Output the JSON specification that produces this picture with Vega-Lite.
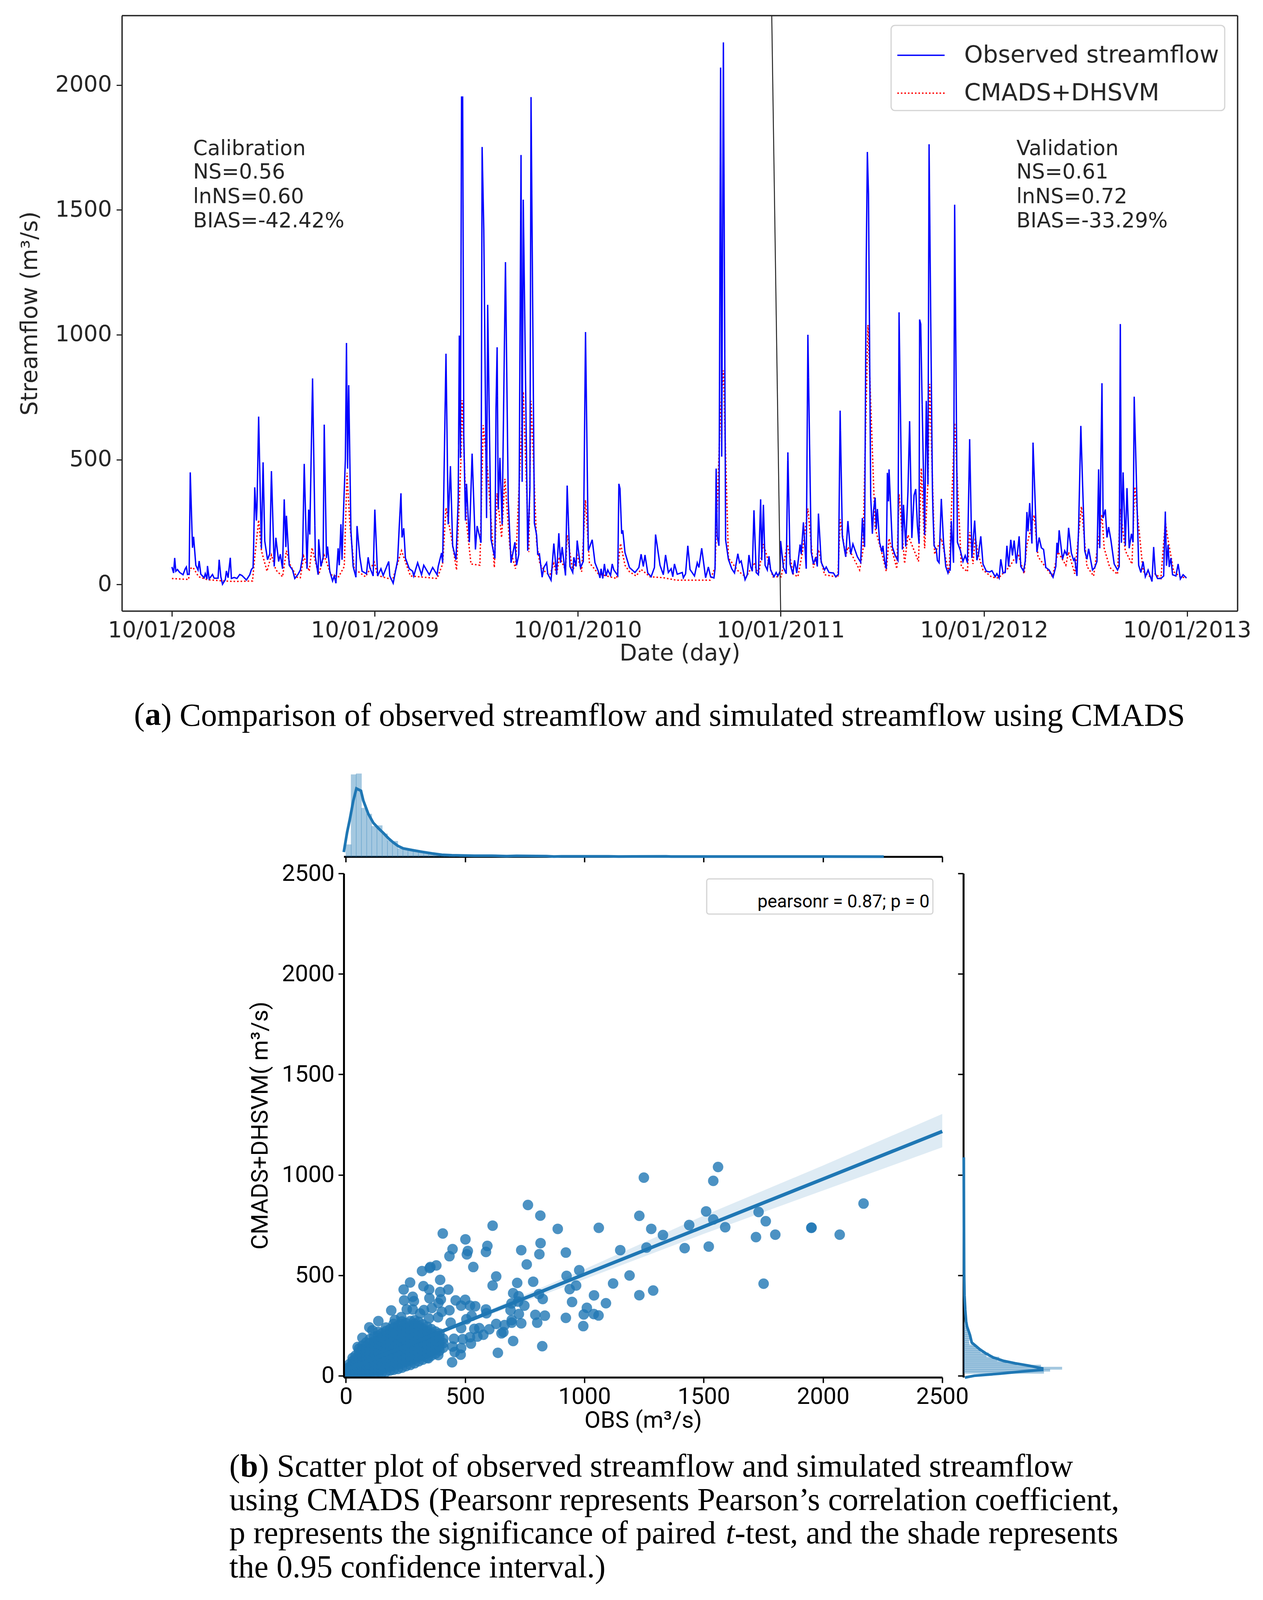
{
"$schema":"https://vega.github.io/schema/vega-lite/v5.json",
"background":"white","padding":0,"spacing":0,"bounds":"flush",
"resolve":{"scale":{"color":"independent","strokeDash":"independent"},"legend":{"color":"independent","strokeDash":"independent"}},
"config":{"view":{"stroke":null},"font":"DejaVu Sans","legend":{"strokeWidth":3},"title":{"font":"Liberation Serif","fontSize":82,"fontWeight":"normal","color":"#000000","anchor":"start","orient":"top","baseline":"alphabetic"}},
"datasets":{
"blank":[{}],
"obs":[{"d":"2008-10-01","v":70},{"d":"2008-10-04","v":46},{"d":"2008-10-06","v":106},{"d":"2008-10-08","v":53},{"d":"2008-10-11","v":60},{"d":"2008-10-15","v":48},{"d":"2008-10-21","v":39},{"d":"2008-10-25","v":63},{"d":"2008-10-27","v":70},{"d":"2008-10-29","v":40},{"d":"2008-11-01","v":41},{"d":"2008-11-03","v":449},{"d":"2008-11-07","v":147},{"d":"2008-11-09","v":191},{"d":"2008-11-13","v":77},{"d":"2008-11-17","v":58},{"d":"2008-11-19","v":94},{"d":"2008-11-22","v":41},{"d":"2008-11-28","v":27},{"d":"2008-11-30","v":43},{"d":"2008-12-03","v":22},{"d":"2008-12-04","v":74},{"d":"2008-12-07","v":22},{"d":"2008-12-13","v":40},{"d":"2008-12-16","v":25},{"d":"2008-12-23","v":25},{"d":"2008-12-25","v":99},{"d":"2008-12-28","v":31},{"d":"2008-12-31","v":1},{"d":"2009-01-05","v":19},{"d":"2009-01-07","v":54},{"d":"2009-01-10","v":27},{"d":"2009-01-14","v":107},{"d":"2009-01-16","v":24},{"d":"2009-01-21","v":28},{"d":"2009-01-26","v":24},{"d":"2009-01-31","v":40},{"d":"2009-02-04","v":36},{"d":"2009-02-12","v":18},{"d":"2009-02-18","v":39},{"d":"2009-02-21","v":60},{"d":"2009-02-24","v":68},{"d":"2009-02-25","v":152},{"d":"2009-02-27","v":389},{"d":"2009-03-02","v":256},{"d":"2009-03-03","v":307},{"d":"2009-03-06","v":672},{"d":"2009-03-11","v":143},{"d":"2009-03-14","v":489},{"d":"2009-03-17","v":174},{"d":"2009-03-22","v":99},{"d":"2009-03-26","v":123},{"d":"2009-03-29","v":454},{"d":"2009-04-03","v":72},{"d":"2009-04-06","v":187},{"d":"2009-04-11","v":92},{"d":"2009-04-14","v":121},{"d":"2009-04-18","v":63},{"d":"2009-04-21","v":341},{"d":"2009-04-24","v":150},{"d":"2009-04-25","v":275},{"d":"2009-04-30","v":77},{"d":"2009-05-06","v":58},{"d":"2009-05-10","v":24},{"d":"2009-05-16","v":41},{"d":"2009-05-20","v":58},{"d":"2009-05-24","v":111},{"d":"2009-05-27","v":483},{"d":"2009-06-01","v":63},{"d":"2009-06-04","v":300},{"d":"2009-06-06","v":200},{"d":"2009-06-11","v":825},{"d":"2009-06-16","v":111},{"d":"2009-06-21","v":39},{"d":"2009-06-22","v":181},{"d":"2009-06-26","v":72},{"d":"2009-06-30","v":109},{"d":"2009-07-02","v":640},{"d":"2009-07-06","v":106},{"d":"2009-07-08","v":152},{"d":"2009-07-12","v":53},{"d":"2009-07-17","v":14},{"d":"2009-07-20","v":34},{"d":"2009-07-23","v":5},{"d":"2009-07-27","v":145},{"d":"2009-07-29","v":77},{"d":"2009-08-01","v":241},{"d":"2009-08-03","v":99},{"d":"2009-08-05","v":254},{"d":"2009-08-09","v":500},{"d":"2009-08-11","v":967},{"d":"2009-08-13","v":464},{"d":"2009-08-15","v":798},{"d":"2009-08-19","v":217},{"d":"2009-08-23","v":72},{"d":"2009-08-28","v":29},{"d":"2009-08-30","v":234},{"d":"2009-09-04","v":111},{"d":"2009-09-08","v":53},{"d":"2009-09-16","v":43},{"d":"2009-09-19","v":109},{"d":"2009-09-22","v":68},{"d":"2009-09-28","v":34},{"d":"2009-10-01","v":300},{"d":"2009-10-06","v":34},{"d":"2009-10-12","v":63},{"d":"2009-10-16","v":36},{"d":"2009-10-26","v":92},{"d":"2009-10-28","v":34},{"d":"2009-11-03","v":5},{"d":"2009-11-11","v":97},{"d":"2009-11-14","v":234},{"d":"2009-11-17","v":365},{"d":"2009-11-19","v":188},{"d":"2009-11-22","v":225},{"d":"2009-11-25","v":106},{"d":"2009-12-02","v":63},{"d":"2009-12-08","v":53},{"d":"2009-12-10","v":34},{"d":"2009-12-17","v":87},{"d":"2009-12-24","v":39},{"d":"2009-12-28","v":77},{"d":"2010-01-07","v":39},{"d":"2010-01-13","v":68},{"d":"2010-01-21","v":39},{"d":"2010-01-23","v":72},{"d":"2010-01-29","v":126},{"d":"2010-01-31","v":87},{"d":"2010-02-06","v":924},{"d":"2010-02-10","v":241},{"d":"2010-02-14","v":474},{"d":"2010-02-18","v":155},{"d":"2010-02-24","v":99},{"d":"2010-02-28","v":338},{"d":"2010-03-02","v":997},{"d":"2010-03-04","v":507},{"d":"2010-03-06","v":1952},{"d":"2010-03-08","v":1952},{"d":"2010-03-10","v":600},{"d":"2010-03-13","v":256},{"d":"2010-03-15","v":403},{"d":"2010-03-20","v":169},{"d":"2010-03-25","v":524},{"d":"2010-03-31","v":140},{"d":"2010-04-03","v":234},{"d":"2010-04-10","v":167},{"d":"2010-04-12","v":1752},{"d":"2010-04-15","v":1420},{"d":"2010-04-20","v":266},{"d":"2010-04-22","v":1120},{"d":"2010-04-28","v":181},{"d":"2010-05-05","v":104},{"d":"2010-05-07","v":705},{"d":"2010-05-09","v":950},{"d":"2010-05-11","v":300},{"d":"2010-05-14","v":507},{"d":"2010-05-18","v":241},{"d":"2010-05-24","v":1291},{"d":"2010-05-29","v":336},{"d":"2010-06-03","v":87},{"d":"2010-06-10","v":169},{"d":"2010-06-13","v":77},{"d":"2010-06-17","v":120},{"d":"2010-06-21","v":1720},{"d":"2010-06-23","v":411},{"d":"2010-06-25","v":1541},{"d":"2010-07-03","v":135},{"d":"2010-07-07","v":386},{"d":"2010-07-09","v":1952},{"d":"2010-07-15","v":246},{"d":"2010-07-19","v":198},{"d":"2010-07-21","v":121},{"d":"2010-07-24","v":123},{"d":"2010-07-29","v":29},{"d":"2010-08-01","v":68},{"d":"2010-08-06","v":87},{"d":"2010-08-08","v":43},{"d":"2010-08-14","v":17},{"d":"2010-08-19","v":164},{"d":"2010-08-24","v":39},{"d":"2010-08-28","v":205},{"d":"2010-08-31","v":87},{"d":"2010-09-03","v":150},{"d":"2010-09-09","v":36},{"d":"2010-09-12","v":396},{"d":"2010-09-17","v":72},{"d":"2010-09-22","v":48},{"d":"2010-09-24","v":109},{"d":"2010-09-28","v":72},{"d":"2010-09-30","v":176},{"d":"2010-10-06","v":68},{"d":"2010-10-11","v":92},{"d":"2010-10-15","v":1011},{"d":"2010-10-20","v":135},{"d":"2010-10-27","v":179},{"d":"2010-11-01","v":87},{"d":"2010-11-07","v":53},{"d":"2010-11-10","v":26},{"d":"2010-11-12","v":63},{"d":"2010-11-15","v":24},{"d":"2010-11-18","v":82},{"d":"2010-11-21","v":34},{"d":"2010-11-24","v":58},{"d":"2010-11-29","v":36},{"d":"2010-12-02","v":82},{"d":"2010-12-05","v":58},{"d":"2010-12-12","v":36},{"d":"2010-12-14","v":403},{"d":"2010-12-16","v":384},{"d":"2010-12-19","v":203},{"d":"2010-12-21","v":217},{"d":"2010-12-25","v":128},{"d":"2011-01-02","v":68},{"d":"2011-01-12","v":48},{"d":"2011-01-19","v":68},{"d":"2011-01-23","v":121},{"d":"2011-01-27","v":72},{"d":"2011-01-30","v":118},{"d":"2011-02-04","v":46},{"d":"2011-02-10","v":31},{"d":"2011-02-16","v":68},{"d":"2011-02-18","v":200},{"d":"2011-02-26","v":77},{"d":"2011-03-04","v":39},{"d":"2011-03-08","v":118},{"d":"2011-03-13","v":48},{"d":"2011-03-18","v":63},{"d":"2011-03-21","v":31},{"d":"2011-03-24","v":82},{"d":"2011-03-29","v":41},{"d":"2011-04-07","v":48},{"d":"2011-04-09","v":27},{"d":"2011-04-13","v":43},{"d":"2011-04-17","v":155},{"d":"2011-04-21","v":60},{"d":"2011-04-29","v":34},{"d":"2011-05-04","v":87},{"d":"2011-05-07","v":68},{"d":"2011-05-12","v":145},{"d":"2011-05-19","v":27},{"d":"2011-05-24","v":70},{"d":"2011-05-28","v":31},{"d":"2011-06-03","v":26},{"d":"2011-06-05","v":63},{"d":"2011-06-07","v":464},{"d":"2011-06-09","v":191},{"d":"2011-06-12","v":155},{"d":"2011-06-15","v":2070},{"d":"2011-06-17","v":512},{"d":"2011-06-20","v":2171},{"d":"2011-06-24","v":179},{"d":"2011-06-29","v":101},{"d":"2011-07-05","v":63},{"d":"2011-07-10","v":46},{"d":"2011-07-16","v":123},{"d":"2011-07-19","v":87},{"d":"2011-07-22","v":94},{"d":"2011-07-29","v":19},{"d":"2011-08-02","v":39},{"d":"2011-08-05","v":118},{"d":"2011-08-08","v":72},{"d":"2011-08-11","v":53},{"d":"2011-08-14","v":297},{"d":"2011-08-18","v":48},{"d":"2011-08-22","v":39},{"d":"2011-08-26","v":341},{"d":"2011-08-28","v":97},{"d":"2011-08-31","v":319},{"d":"2011-09-03","v":77},{"d":"2011-09-07","v":58},{"d":"2011-09-10","v":113},{"d":"2011-09-13","v":58},{"d":"2011-09-19","v":31},{"d":"2011-09-23","v":48},{"d":"2011-09-26","v":34},{"d":"2011-09-30","v":53},{"d":"2011-10-01","v":174},{"d":"2011-10-06","v":68},{"d":"2011-10-11","v":43},{"d":"2011-10-14","v":529},{"d":"2011-10-18","v":82},{"d":"2011-10-23","v":41},{"d":"2011-10-26","v":97},{"d":"2011-10-30","v":46},{"d":"2011-11-05","v":160},{"d":"2011-11-07","v":121},{"d":"2011-11-11","v":249},{"d":"2011-11-16","v":63},{"d":"2011-11-19","v":1000},{"d":"2011-11-25","v":130},{"d":"2011-11-29","v":82},{"d":"2011-12-03","v":109},{"d":"2011-12-06","v":72},{"d":"2011-12-08","v":284},{"d":"2011-12-13","v":89},{"d":"2011-12-19","v":58},{"d":"2011-12-22","v":70},{"d":"2011-12-27","v":48},{"d":"2012-01-04","v":46},{"d":"2012-01-08","v":31},{"d":"2012-01-13","v":41},{"d":"2012-01-16","v":696},{"d":"2012-01-20","v":193},{"d":"2012-01-26","v":111},{"d":"2012-01-30","v":254},{"d":"2012-02-04","v":121},{"d":"2012-02-08","v":162},{"d":"2012-02-16","v":111},{"d":"2012-02-22","v":89},{"d":"2012-02-25","v":266},{"d":"2012-02-29","v":150},{"d":"2012-03-03","v":1300},{"d":"2012-03-05","v":1732},{"d":"2012-03-07","v":1563},{"d":"2012-03-11","v":353},{"d":"2012-03-14","v":203},{"d":"2012-03-16","v":295},{"d":"2012-03-19","v":348},{"d":"2012-03-21","v":222},{"d":"2012-03-23","v":302},{"d":"2012-03-27","v":169},{"d":"2012-03-31","v":130},{"d":"2012-04-02","v":155},{"d":"2012-04-05","v":94},{"d":"2012-04-08","v":63},{"d":"2012-04-10","v":447},{"d":"2012-04-12","v":333},{"d":"2012-04-13","v":461},{"d":"2012-04-19","v":150},{"d":"2012-04-24","v":116},{"d":"2012-04-29","v":96},{"d":"2012-05-01","v":1090},{"d":"2012-05-07","v":140},{"d":"2012-05-09","v":319},{"d":"2012-05-13","v":152},{"d":"2012-05-17","v":372},{"d":"2012-05-20","v":654},{"d":"2012-05-24","v":186},{"d":"2012-05-28","v":357},{"d":"2012-05-31","v":382},{"d":"2012-06-03","v":237},{"d":"2012-06-06","v":164},{"d":"2012-06-07","v":1061},{"d":"2012-06-09","v":1043},{"d":"2012-06-11","v":786},{"d":"2012-06-16","v":198},{"d":"2012-06-19","v":735},{"d":"2012-06-22","v":400},{"d":"2012-06-24","v":1763},{"d":"2012-06-27","v":1061},{"d":"2012-06-30","v":386},{"d":"2012-07-01","v":290},{"d":"2012-07-03","v":155},{"d":"2012-07-07","v":140},{"d":"2012-07-09","v":96},{"d":"2012-07-12","v":87},{"d":"2012-07-16","v":343},{"d":"2012-07-20","v":169},{"d":"2012-07-24","v":72},{"d":"2012-07-28","v":46},{"d":"2012-07-30","v":60},{"d":"2012-08-01","v":58},{"d":"2012-08-03","v":254},{"d":"2012-08-07","v":87},{"d":"2012-08-09","v":1521},{"d":"2012-08-14","v":169},{"d":"2012-08-19","v":138},{"d":"2012-08-24","v":92},{"d":"2012-08-28","v":116},{"d":"2012-09-01","v":87},{"d":"2012-09-05","v":582},{"d":"2012-09-09","v":106},{"d":"2012-09-14","v":256},{"d":"2012-09-18","v":97},{"d":"2012-09-21","v":123},{"d":"2012-09-25","v":193},{"d":"2012-09-29","v":82},{"d":"2012-10-05","v":53},{"d":"2012-10-11","v":50},{"d":"2012-10-15","v":55},{"d":"2012-10-21","v":31},{"d":"2012-10-24","v":43},{"d":"2012-10-28","v":26},{"d":"2012-10-31","v":101},{"d":"2012-11-04","v":46},{"d":"2012-11-08","v":48},{"d":"2012-11-11","v":155},{"d":"2012-11-14","v":72},{"d":"2012-11-18","v":179},{"d":"2012-11-21","v":116},{"d":"2012-11-24","v":176},{"d":"2012-11-28","v":84},{"d":"2012-12-03","v":193},{"d":"2012-12-06","v":72},{"d":"2012-12-11","v":53},{"d":"2012-12-14","v":94},{"d":"2012-12-17","v":290},{"d":"2012-12-19","v":213},{"d":"2012-12-22","v":326},{"d":"2012-12-26","v":164},{"d":"2012-12-28","v":568},{"d":"2012-12-31","v":381},{"d":"2013-01-04","v":130},{"d":"2013-01-08","v":188},{"d":"2013-01-12","v":147},{"d":"2013-01-16","v":140},{"d":"2013-01-20","v":68},{"d":"2013-01-26","v":58},{"d":"2013-02-02","v":29},{"d":"2013-02-07","v":72},{"d":"2013-02-09","v":167},{"d":"2013-02-11","v":126},{"d":"2013-02-13","v":217},{"d":"2013-02-19","v":101},{"d":"2013-02-23","v":135},{"d":"2013-02-27","v":116},{"d":"2013-03-02","v":227},{"d":"2013-03-07","v":126},{"d":"2013-03-11","v":97},{"d":"2013-03-13","v":104},{"d":"2013-03-17","v":34},{"d":"2013-03-20","v":227},{"d":"2013-03-24","v":635},{"d":"2013-03-27","v":411},{"d":"2013-03-31","v":135},{"d":"2013-04-04","v":101},{"d":"2013-04-07","v":143},{"d":"2013-04-14","v":58},{"d":"2013-04-18","v":68},{"d":"2013-04-22","v":92},{"d":"2013-04-25","v":461},{"d":"2013-04-27","v":145},{"d":"2013-05-01","v":806},{"d":"2013-05-03","v":266},{"d":"2013-05-07","v":300},{"d":"2013-05-10","v":188},{"d":"2013-05-13","v":230},{"d":"2013-05-17","v":179},{"d":"2013-05-23","v":82},{"d":"2013-05-29","v":58},{"d":"2013-06-01","v":72},{"d":"2013-06-03","v":1043},{"d":"2013-06-05","v":167},{"d":"2013-06-08","v":449},{"d":"2013-06-12","v":155},{"d":"2013-06-15","v":386},{"d":"2013-06-19","v":145},{"d":"2013-06-23","v":203},{"d":"2013-06-26","v":169},{"d":"2013-06-28","v":752},{"d":"2013-07-06","v":77},{"d":"2013-07-10","v":48},{"d":"2013-07-14","v":92},{"d":"2013-07-18","v":31},{"d":"2013-07-23","v":58},{"d":"2013-07-30","v":12},{"d":"2013-08-02","v":150},{"d":"2013-08-05","v":43},{"d":"2013-08-09","v":24},{"d":"2013-08-15","v":24},{"d":"2013-08-20","v":34},{"d":"2013-08-21","v":130},{"d":"2013-08-23","v":292},{"d":"2013-08-25","v":75},{"d":"2013-08-28","v":159},{"d":"2013-08-30","v":70},{"d":"2013-09-02","v":106},{"d":"2013-09-05","v":39},{"d":"2013-09-11","v":34},{"d":"2013-09-15","v":82},{"d":"2013-09-19","v":22},{"d":"2013-09-24","v":39},{"d":"2013-09-30","v":26}],
"sim":[{"d":"2008-10-01","v":24},{"d":"2008-10-31","v":20},{"d":"2008-11-02","v":63},{"d":"2008-11-08","v":68},{"d":"2008-11-18","v":31},{"d":"2008-12-04","v":19},{"d":"2009-01-03","v":14},{"d":"2009-01-23","v":12},{"d":"2009-02-23","v":14},{"d":"2009-02-26","v":87},{"d":"2009-03-06","v":258},{"d":"2009-03-11","v":135},{"d":"2009-03-21","v":53},{"d":"2009-03-29","v":118},{"d":"2009-04-06","v":58},{"d":"2009-04-18","v":31},{"d":"2009-04-25","v":135},{"d":"2009-05-02","v":77},{"d":"2009-05-14","v":29},{"d":"2009-05-20","v":27},{"d":"2009-05-26","v":113},{"d":"2009-06-05","v":53},{"d":"2009-06-10","v":147},{"d":"2009-06-22","v":39},{"d":"2009-07-02","v":116},{"d":"2009-07-14","v":39},{"d":"2009-07-28","v":31},{"d":"2009-08-07","v":72},{"d":"2009-08-12","v":447},{"d":"2009-08-17","v":241},{"d":"2009-08-25","v":63},{"d":"2009-09-14","v":31},{"d":"2009-09-30","v":89},{"d":"2009-10-06","v":36},{"d":"2009-11-02","v":19},{"d":"2009-11-18","v":135},{"d":"2009-12-04","v":34},{"d":"2010-01-21","v":24},{"d":"2010-01-31","v":82},{"d":"2010-02-06","v":307},{"d":"2010-02-15","v":198},{"d":"2010-02-25","v":58},{"d":"2010-03-05","v":507},{"d":"2010-03-07","v":738},{"d":"2010-03-15","v":246},{"d":"2010-03-23","v":82},{"d":"2010-04-08","v":77},{"d":"2010-04-14","v":638},{"d":"2010-04-22","v":454},{"d":"2010-05-04","v":68},{"d":"2010-05-09","v":365},{"d":"2010-05-17","v":188},{"d":"2010-05-23","v":423},{"d":"2010-06-01","v":145},{"d":"2010-06-11","v":63},{"d":"2010-06-25","v":772},{"d":"2010-07-05","v":130},{"d":"2010-07-09","v":735},{"d":"2010-07-19","v":169},{"d":"2010-07-25","v":82},{"d":"2010-08-04","v":48},{"d":"2010-08-12","v":39},{"d":"2010-08-19","v":84},{"d":"2010-08-24","v":39},{"d":"2010-08-29","v":111},{"d":"2010-09-09","v":58},{"d":"2010-09-12","v":198},{"d":"2010-09-22","v":53},{"d":"2010-09-30","v":118},{"d":"2010-10-08","v":51},{"d":"2010-10-15","v":338},{"d":"2010-10-22","v":87},{"d":"2010-11-07","v":43},{"d":"2010-11-27","v":31},{"d":"2010-12-10","v":24},{"d":"2010-12-17","v":164},{"d":"2010-12-25","v":77},{"d":"2011-01-02","v":51},{"d":"2011-01-14","v":34},{"d":"2011-01-23","v":60},{"d":"2011-02-08","v":31},{"d":"2011-03-04","v":27},{"d":"2011-03-28","v":17},{"d":"2011-05-27","v":17},{"d":"2011-06-05","v":68},{"d":"2011-06-15","v":701},{"d":"2011-06-20","v":857},{"d":"2011-06-29","v":106},{"d":"2011-07-17","v":53},{"d":"2011-07-31","v":29},{"d":"2011-08-14","v":87},{"d":"2011-08-22","v":39},{"d":"2011-08-31","v":162},{"d":"2011-09-17","v":31},{"d":"2011-10-02","v":31},{"d":"2011-10-13","v":160},{"d":"2011-10-24","v":41},{"d":"2011-11-01","v":31},{"d":"2011-11-09","v":126},{"d":"2011-11-19","v":304},{"d":"2011-11-29","v":68},{"d":"2011-12-08","v":140},{"d":"2011-12-19","v":39},{"d":"2012-01-12","v":29},{"d":"2012-01-16","v":261},{"d":"2012-01-26","v":111},{"d":"2012-01-30","v":150},{"d":"2012-02-20","v":58},{"d":"2012-02-26","v":135},{"d":"2012-03-06","v":1039},{"d":"2012-03-19","v":225},{"d":"2012-03-31","v":126},{"d":"2012-04-08","v":53},{"d":"2012-04-13","v":184},{"d":"2012-04-27","v":63},{"d":"2012-05-01","v":362},{"d":"2012-05-11","v":84},{"d":"2012-05-17","v":198},{"d":"2012-06-05","v":92},{"d":"2012-06-10","v":466},{"d":"2012-06-16","v":145},{"d":"2012-06-22","v":410},{"d":"2012-06-25","v":803},{"d":"2012-07-04","v":121},{"d":"2012-07-16","v":184},{"d":"2012-07-30","v":43},{"d":"2012-08-09","v":647},{"d":"2012-08-21","v":72},{"d":"2012-09-01","v":51},{"d":"2012-09-05","v":210},{"d":"2012-09-11","v":82},{"d":"2012-09-15","v":188},{"d":"2012-09-21","v":116},{"d":"2012-09-29","v":58},{"d":"2012-10-15","v":29},{"d":"2012-10-27","v":26},{"d":"2012-11-16","v":72},{"d":"2012-11-24","v":101},{"d":"2012-12-02","v":116},{"d":"2012-12-12","v":43},{"d":"2012-12-17","v":159},{"d":"2012-12-30","v":278},{"d":"2013-01-06","v":111},{"d":"2013-02-01","v":31},{"d":"2013-02-11","v":130},{"d":"2013-02-25","v":77},{"d":"2013-03-02","v":130},{"d":"2013-03-13","v":43},{"d":"2013-03-25","v":312},{"d":"2013-04-04","v":72},{"d":"2013-04-16","v":34},{"d":"2013-05-01","v":280},{"d":"2013-05-05","v":145},{"d":"2013-05-15","v":68},{"d":"2013-05-29","v":41},{"d":"2013-06-03","v":304},{"d":"2013-06-12","v":135},{"d":"2013-06-24","v":82},{"d":"2013-06-29","v":391},{"d":"2013-07-14","v":53},{"d":"2013-07-28","v":29},{"d":"2013-08-05","v":43},{"d":"2013-08-15","v":24},{"d":"2013-08-23","v":251},{"d":"2013-08-26","v":203},{"d":"2013-09-07","v":51},{"d":"2013-09-19","v":31},{"d":"2013-09-30","v":26}],
"scatter":[{"x":1560,"y":1039},{"x":1249,"y":986},{"x":1540,"y":970},{"x":763,"y":850},{"x":815,"y":797},{"x":1510,"y":818},{"x":1230,"y":796},{"x":1730,"y":815},{"x":1760,"y":769},{"x":1951,"y":736},{"x":1952,"y":737},{"x":1540,"y":778},{"x":1439,"y":750},{"x":1590,"y":739},{"x":2070,"y":702},{"x":2170,"y":857},{"x":888,"y":731},{"x":1060,"y":736},{"x":1280,"y":731},{"x":615,"y":747},{"x":406,"y":708},{"x":1329,"y":700},{"x":1719,"y":690},{"x":1800,"y":702},{"x":1521,"y":643},{"x":1420,"y":635},{"x":1150,"y":625},{"x":1260,"y":638},{"x":816,"y":660},{"x":735,"y":625},{"x":811,"y":605},{"x":922,"y":613},{"x":501,"y":679},{"x":593,"y":646},{"x":587,"y":616},{"x":447,"y":630},{"x":434,"y":595},{"x":511,"y":621},{"x":507,"y":604},{"x":758,"y":554},{"x":534,"y":541},{"x":379,"y":549},{"x":354,"y":541},{"x":319,"y":521},{"x":351,"y":536},{"x":978,"y":525},{"x":630,"y":494},{"x":925,"y":497},{"x":395,"y":477},{"x":269,"y":464},{"x":718,"y":462},{"x":785,"y":468},{"x":1189,"y":499},{"x":1120,"y":459},{"x":1751,"y":458},{"x":615,"y":449},{"x":325,"y":446},{"x":349,"y":429},{"x":242,"y":429},{"x":429,"y":429},{"x":395,"y":417},{"x":965,"y":449},{"x":938,"y":431},{"x":1288,"y":424},{"x":1230,"y":401},{"x":701,"y":411},{"x":724,"y":396},{"x":809,"y":406},{"x":825,"y":382},{"x":1040,"y":400},{"x":280,"y":393},{"x":350,"y":386},{"x":398,"y":380},{"x":244,"y":375},{"x":285,"y":371},{"x":460,"y":375},{"x":500,"y":378},{"x":388,"y":362},{"x":483,"y":349},{"x":520,"y":349},{"x":542,"y":346},{"x":694,"y":360},{"x":722,"y":369},{"x":748,"y":349},{"x":948,"y":367},{"x":1090,"y":361},{"x":1010,"y":338},{"x":360,"y":337},{"x":255,"y":330},{"x":280,"y":330},{"x":327,"y":327},{"x":434,"y":326},{"x":402,"y":318},{"x":587,"y":330},{"x":690,"y":326},{"x":190,"y":325},{"x":589,"y":311},{"x":725,"y":307},{"x":794,"y":303},{"x":834,"y":299},{"x":997,"y":305},{"x":1039,"y":307},{"x":1059,"y":300},{"x":922,"y":288},{"x":527,"y":298},{"x":505,"y":281},{"x":311,"y":310},{"x":232,"y":292},{"x":205,"y":278},{"x":348,"y":285},{"x":386,"y":291},{"x":136,"y":272},{"x":695,"y":277},{"x":735,"y":261},{"x":802,"y":264},{"x":995,"y":247},{"x":630,"y":258},{"x":665,"y":252},{"x":695,"y":264},{"x":439,"y":264},{"x":98,"y":241},{"x":111,"y":226},{"x":483,"y":237},{"x":538,"y":233},{"x":559,"y":237},{"x":601,"y":231},{"x":660,"y":217},{"x":652,"y":211},{"x":576,"y":204},{"x":551,"y":195},{"x":520,"y":192},{"x":453,"y":184},{"x":490,"y":182},{"x":524,"y":160},{"x":701,"y":173},{"x":823,"y":147},{"x":447,"y":145},{"x":483,"y":138},{"x":456,"y":118},{"x":637,"y":114},{"x":481,"y":105},{"x":387,"y":103},{"x":345,"y":87},{"x":445,"y":67},{"x":69,"y":189},{"x":49,"y":143},
{"x":5,"y":5},{"x":5,"y":14},{"x":5,"y":24},{"x":5,"y":36},{"x":15,"y":3},{"x":15,"y":12},{"x":15,"y":20},{"x":15,"y":30},{"x":15,"y":44},{"x":15,"y":58},{"x":28,"y":4},{"x":28,"y":16},{"x":28,"y":28},{"x":28,"y":42},{"x":28,"y":56},{"x":28,"y":72},{"x":28,"y":88},{"x":40,"y":2},{"x":40,"y":12},{"x":40,"y":24},{"x":40,"y":38},{"x":40,"y":52},{"x":40,"y":68},{"x":40,"y":84},{"x":40,"y":100},{"x":55,"y":6},{"x":55,"y":18},{"x":55,"y":32},{"x":55,"y":48},{"x":55,"y":64},{"x":55,"y":82},{"x":55,"y":100},{"x":55,"y":118},{"x":55,"y":135},{"x":70,"y":4},{"x":70,"y":16},{"x":70,"y":30},{"x":70,"y":46},{"x":70,"y":62},{"x":70,"y":80},{"x":70,"y":98},{"x":70,"y":116},{"x":70,"y":134},{"x":70,"y":150},{"x":85,"y":8},{"x":85,"y":22},{"x":85,"y":38},{"x":85,"y":54},{"x":85,"y":72},{"x":85,"y":90},{"x":85,"y":108},{"x":85,"y":126},{"x":85,"y":144},{"x":85,"y":165},{"x":100,"y":6},{"x":100,"y":20},{"x":100,"y":36},{"x":100,"y":52},{"x":100,"y":70},{"x":100,"y":88},{"x":100,"y":106},{"x":100,"y":124},{"x":100,"y":142},{"x":100,"y":162},{"x":100,"y":182},{"x":118,"y":10},{"x":118,"y":26},{"x":118,"y":42},{"x":118,"y":60},{"x":118,"y":78},{"x":118,"y":96},{"x":118,"y":114},{"x":118,"y":132},{"x":118,"y":152},{"x":118,"y":172},{"x":118,"y":195},{"x":135,"y":8},{"x":135,"y":24},{"x":135,"y":42},{"x":135,"y":60},{"x":135,"y":80},{"x":135,"y":100},{"x":135,"y":118},{"x":135,"y":138},{"x":135,"y":158},{"x":135,"y":178},{"x":135,"y":200},{"x":135,"y":218},{"x":150,"y":14},{"x":150,"y":32},{"x":150,"y":50},{"x":150,"y":70},{"x":150,"y":90},{"x":150,"y":110},{"x":150,"y":130},{"x":150,"y":150},{"x":150,"y":170},{"x":150,"y":190},{"x":150,"y":210},{"x":168,"y":20},{"x":168,"y":40},{"x":168,"y":60},{"x":168,"y":80},{"x":168,"y":100},{"x":168,"y":120},{"x":168,"y":140},{"x":168,"y":160},{"x":168,"y":180},{"x":168,"y":200},{"x":168,"y":222},{"x":168,"y":240},{"x":185,"y":26},{"x":185,"y":46},{"x":185,"y":66},{"x":185,"y":88},{"x":185,"y":108},{"x":185,"y":128},{"x":185,"y":148},{"x":185,"y":170},{"x":185,"y":190},{"x":185,"y":210},{"x":185,"y":232},{"x":200,"y":30},{"x":200,"y":52},{"x":200,"y":72},{"x":200,"y":92},{"x":200,"y":114},{"x":200,"y":134},{"x":200,"y":154},{"x":200,"y":176},{"x":200,"y":196},{"x":200,"y":218},{"x":200,"y":240},{"x":200,"y":258},{"x":218,"y":34},{"x":218,"y":56},{"x":218,"y":78},{"x":218,"y":98},{"x":218,"y":118},{"x":218,"y":140},{"x":218,"y":162},{"x":218,"y":182},{"x":218,"y":204},{"x":218,"y":226},{"x":218,"y":248},{"x":235,"y":40},{"x":235,"y":62},{"x":235,"y":84},{"x":235,"y":104},{"x":235,"y":126},{"x":235,"y":148},{"x":235,"y":168},{"x":235,"y":190},{"x":235,"y":212},{"x":235,"y":234},{"x":235,"y":256},{"x":235,"y":270},{"x":252,"y":48},{"x":252,"y":70},{"x":252,"y":90},{"x":252,"y":112},{"x":252,"y":134},{"x":252,"y":154},{"x":252,"y":176},{"x":252,"y":198},{"x":252,"y":220},{"x":252,"y":242},{"x":252,"y":262},{"x":270,"y":54},{"x":270,"y":76},{"x":270,"y":96},{"x":270,"y":118},{"x":270,"y":140},{"x":270,"y":162},{"x":270,"y":184},{"x":270,"y":206},{"x":270,"y":228},{"x":270,"y":250},{"x":270,"y":272},{"x":288,"y":62},{"x":288,"y":84},{"x":288,"y":106},{"x":288,"y":128},{"x":288,"y":150},{"x":288,"y":172},{"x":288,"y":194},{"x":288,"y":216},{"x":288,"y":238},{"x":288,"y":258},{"x":288,"y":276},{"x":305,"y":72},{"x":305,"y":94},{"x":305,"y":116},{"x":305,"y":138},{"x":305,"y":160},{"x":305,"y":182},{"x":305,"y":204},{"x":305,"y":226},{"x":305,"y":248},{"x":305,"y":268},{"x":322,"y":80},{"x":322,"y":102},{"x":322,"y":124},{"x":322,"y":146},{"x":322,"y":168},{"x":322,"y":190},{"x":322,"y":212},{"x":322,"y":234},{"x":322,"y":256},{"x":340,"y":90},{"x":340,"y":112},{"x":340,"y":134},{"x":340,"y":156},{"x":340,"y":178},{"x":340,"y":200},{"x":340,"y":222},{"x":340,"y":244},{"x":358,"y":100},{"x":358,"y":122},{"x":358,"y":144},{"x":358,"y":166},{"x":358,"y":188},{"x":358,"y":210},{"x":358,"y":232},{"x":375,"y":110},{"x":375,"y":132},{"x":375,"y":154},{"x":375,"y":176},{"x":375,"y":198},{"x":375,"y":220},{"x":392,"y":125},{"x":392,"y":146},{"x":392,"y":168},{"x":392,"y":190},{"x":392,"y":210},{"x":408,"y":140},{"x":408,"y":162},{"x":408,"y":184}],
"fit":[{"x":0,"y":30,"lo":22,"hi":38},{"x":500,"y":267,"lo":258,"hi":276},{"x":1000,"y":505,"lo":480,"hi":530},{"x":1500,"y":742,"lo":706,"hi":797},{"x":2000,"y":979,"lo":922,"hi":1046},{"x":2500,"y":1216,"lo":1137,"hi":1303}],
"histTop":[{"a":0,"b":22,"c":52},{"a":22,"b":43,"c":357},{"a":43,"b":65,"c":361},{"a":65,"b":87,"c":211},{"a":87,"b":108,"c":185},{"a":108,"b":130,"c":132},{"a":130,"b":152,"c":135},{"a":152,"b":174,"c":99},{"a":174,"b":195,"c":70},{"a":195,"b":217,"c":67},{"a":217,"b":239,"c":34},{"a":239,"b":260,"c":29},{"a":260,"b":282,"c":25},{"a":282,"b":304,"c":21},{"a":304,"b":326,"c":16},{"a":326,"b":347,"c":12},{"a":347,"b":369,"c":9},{"a":369,"b":391,"c":6},{"a":391,"b":412,"c":3},{"a":412,"b":434,"c":2},{"a":434,"b":456,"c":2},{"a":477,"b":499,"c":3},{"a":521,"b":543,"c":2},{"a":608,"b":630,"c":2},{"a":694,"b":716,"c":2},{"a":759,"b":781,"c":2},{"a":803,"b":825,"c":3},{"a":911,"b":933,"c":1},{"a":998,"b":1020,"c":1},{"a":1237,"b":1259,"c":1},{"a":1541,"b":1563,"c":1},{"a":1736,"b":1758,"c":1},{"a":1953,"b":1975,"c":1},{"a":2170,"b":2192,"c":1}],
"kdeTop":[{"x":-9,"k":20},{"x":5,"k":106},{"x":16,"k":161},{"x":31,"k":244},{"x":44,"k":297},{"x":63,"k":287},{"x":73,"k":244},{"x":94,"k":186},{"x":115,"k":147},{"x":136,"k":124},{"x":157,"k":103},{"x":178,"k":80},{"x":198,"k":62},{"x":219,"k":46},{"x":240,"k":36},{"x":277,"k":28.5},{"x":318,"k":21},{"x":360,"k":14},{"x":402,"k":8},{"x":444,"k":6},{"x":538,"k":4},{"x":611,"k":4},{"x":674,"k":2.3},{"x":715,"k":3.2},{"x":841,"k":2.3},{"x":872,"k":0.5},{"x":903,"k":1.4},{"x":1102,"k":1.4},{"x":1143,"k":0.5},{"x":1206,"k":1},{"x":1342,"k":1.4},{"x":1363,"k":0.5},{"x":1600,"k":0.6},{"x":2000,"k":0.5},{"x":2255,"k":0}],
"histRight":[{"a":12,"b":22,"c":220},{"a":22,"b":32,"c":237},{"a":32,"b":43,"c":270},{"a":43,"b":53,"c":212},{"a":53,"b":63,"c":145},{"a":63,"b":73,"c":117},{"a":73,"b":83,"c":91},{"a":83,"b":93,"c":97},{"a":93,"b":104,"c":62},{"a":104,"b":114,"c":68},{"a":114,"b":124,"c":46},{"a":124,"b":134,"c":48},{"a":134,"b":144,"c":35},{"a":144,"b":154,"c":34},{"a":154,"b":165,"c":15},{"a":165,"b":175,"c":14},{"a":175,"b":185,"c":15},{"a":185,"b":195,"c":17},{"a":195,"b":205,"c":13},{"a":205,"b":215,"c":17},{"a":215,"b":226,"c":9},{"a":226,"b":236,"c":8},{"a":236,"b":246,"c":5},{"a":246,"b":256,"c":3},{"a":256,"b":266,"c":2}],
"kdeRight":[{"v":-9,"k":3},{"v":0,"k":29},{"v":10.5,"k":99},{"v":21,"k":160},{"v":29.5,"k":216},{"v":36.6,"k":216},{"v":50.5,"k":178},{"v":61.7,"k":142},{"v":73.6,"k":110},{"v":91,"k":81},{"v":112,"k":60},{"v":130,"k":45},{"v":165,"k":22},{"v":203,"k":17},{"v":245,"k":9},{"v":270,"k":6.5},{"v":329,"k":4},{"v":400,"k":2},{"v":504,"k":1},{"v":750,"k":0.5},{"v":1087,"k":0}]
},
"vconcat":[
{"width":3233,"height":1564,
  "layer":[
  {"data":{"name":"sim"},"mark":{"type":"line","strokeWidth":3.5},
   "encoding":{
    "x":{"field":"d","type":"temporal","title":"Date (day)","scale":{"type":"utc","domain":[{"year":2008,"month":7,"date":3,"utc":true},{"year":2013,"month":12,"date":31,"utc":true}],"range":[312,3168]},
     "axis":{"values":[{"year":2008,"month":10,"date":1,"utc":true},{"year":2009,"month":10,"date":1,"utc":true},{"year":2010,"month":10,"date":1,"utc":true},{"year":2011,"month":10,"date":1,"utc":true},{"year":2012,"month":10,"date":1,"utc":true},{"year":2013,"month":10,"date":1,"utc":true}],"format":"%m/%d/%Y","grid":false,"domainColor":"#262626","domainWidth":3.5,"tickColor":"#262626","tickWidth":3,"tickSize":14,"labelFont":"DejaVu Sans","labelFontSize":57,"labelColor":"#262626","labelPadding":8,"labelOverlap":false,"labelFlush":false,"labelLimit":1000,"titleFont":"DejaVu Sans","titleFontSize":58,"titleFontWeight":"normal","titleColor":"#262626","titlePadding":2}},
    "y":{"field":"v","type":"quantitative","title":"Streamflow (m³/s)","scale":{"domain":[-106,2278],"range":[1564,40],"nice":false,"zero":false},
     "axis":{"offset":-312,"values":[0,500,1000,1500,2000],"format":"d","grid":false,"domainColor":"#262626","domainWidth":3.5,"tickColor":"#262626","tickWidth":3,"tickSize":14,"labelFont":"DejaVu Sans","labelFontSize":57,"labelColor":"#262626","labelPadding":12,"labelLimit":1000,"titleFont":"DejaVu Sans","titleFontSize":58,"titleFontWeight":"normal","titleColor":"#262626","titlePadding":34}},
    "color":{"datum":"CMADS+DHSVM","scale":{"domain":["Observed streamflow","CMADS+DHSVM"],"range":["#0000ff","#ff0000"]},
     "legend":{"title":null,"orient":"none","legendX":2281,"legendY":65,"symbolType":"stroke","symbolSize":14641,"symbolStrokeWidth":3.5,"labelFont":"DejaVu Sans","labelFontSize":61,"labelColor":"#262626","labelOffset":48,"labelLimit":1500,"rowPadding":4,"padding":14,"cornerRadius":10,"strokeColor":"#d4d4d4","fillColor":"#ffffff","encode":{"symbols":{"update":{"strokeDash":{"signal":"datum.value==='CMADS+DHSVM'?[4,5]:[1,0]"}}}}}},
    "strokeDash":{"datum":"CMADS+DHSVM","scale":{"domain":["Observed streamflow","CMADS+DHSVM"],"range":[[1,0],[4,5]]},"legend":null}
   }},
  {"data":{"name":"obs"},"mark":{"type":"line","strokeWidth":3.5},
   "encoding":{
    "x":{"field":"d","type":"temporal"},
    "y":{"field":"v","type":"quantitative"},
    "color":{"datum":"Observed streamflow"},
    "strokeDash":{"datum":"Observed streamflow"}
   }},
  {"data":{"values":[{"d":"2011-09-15","v":2278},{"d":"2011-10-01","v":-106}]},"mark":{"type":"line","color":"#222222","strokeWidth":2.5},
   "encoding":{"x":{"field":"d","type":"temporal"},"y":{"field":"v","type":"quantitative"}}},
  {"data":{"values":[{"d":"2008-07-03","d2":"2013-12-31","v":2278}]},"mark":{"type":"rule","color":"#262626","strokeWidth":3.5},
   "encoding":{"x":{"field":"d","type":"temporal"},"x2":{"field":"d2"},"y":{"field":"v","type":"quantitative"}}},
  {"data":{"values":[{"d":"2013-12-31","v":-106,"v2":2278}]},"mark":{"type":"rule","color":"#262626","strokeWidth":3.5},
   "encoding":{"x":{"field":"d","type":"temporal"},"y":{"field":"v","type":"quantitative"},"y2":{"field":"v2"}}},
  {"data":{"values":[{"d":"2008-11-08","v":1744,"t":"Calibration"},{"d":"2008-11-08","v":1650,"t":"NS=0.56"},{"d":"2008-11-08","v":1552,"t":"lnNS=0.60"},{"d":"2008-11-08","v":1455,"t":"BIAS=-42.42%"},{"d":"2012-11-28","v":1744,"t":"Validation"},{"d":"2012-11-28","v":1650,"t":"NS=0.61"},{"d":"2012-11-28","v":1552,"t":"lnNS=0.72"},{"d":"2012-11-28","v":1455,"t":"BIAS=-33.29%"}]},
   "mark":{"type":"text","align":"left","baseline":"middle","font":"DejaVu Sans","fontSize":53,"color":"#262626"},
   "encoding":{"x":{"field":"d","type":"temporal"},"y":{"field":"v","type":"quantitative"},"text":{"field":"t"}}}
  ]},
{"data":{"name":"blank"},"mark":{"type":"point","opacity":0},"width":3233,"height":1,"title":{"text":"(","dx":343,"offset":-311}},
{"data":{"name":"blank"},"mark":{"type":"point","opacity":0},"width":3233,"height":1,"title":{"text":"a","fontWeight":"bold","dx":371,"offset":-310}},
{"width":3233,"height":627,"title":{"text":") Comparison of observed streamflow and simulated streamflow using CMADS","dx":412,"offset":-309},
  "layer":[
  {"data":{"name":"histTop"},"mark":{"type":"rect","color":"#1f77b4","opacity":0.4,"stroke":"#1f77b4","strokeWidth":1.5},
   "encoding":{
    "x":{"field":"a","type":"quantitative","title":null,"scale":{"domain":[-9,2500],"range":[880,2412],"nice":false,"zero":false},
     "axis":{"values":[0,500,1000,1500,2000,2500],"labels":false,"grid":false,"domainColor":"#000000","domainWidth":5,"tickColor":"#000000","tickWidth":3.5,"tickSize":14}},
    "x2":{"field":"b"},
    "y":{"field":"c","type":"quantitative","title":null,"scale":{"domain":[0,361],"range":[627,415],"nice":false},"axis":null},
    "y2":{"datum":0}
   }},
  {"data":{"name":"kdeTop"},"mark":{"type":"line","color":"#1f77b4","strokeWidth":7},
   "encoding":{"x":{"field":"x","type":"quantitative"},"y":{"field":"k","type":"quantitative"}}}
  ]},
{"width":3233,"height":1333,
  "resolve":{"scale":{"x":"independent","y":"independent"},"axis":{"x":"independent","y":"independent"}},
  "layer":[
  {"layer":[
   {"data":{"name":"scatter"},"mark":{"type":"point","filled":true,"size":729,"opacity":0.8},
    "encoding":{
     "x":{"field":"x","type":"quantitative","title":"OBS (m³/s)","scale":{"domain":[-9,2500],"range":[880,2412],"nice":false,"zero":false},
      "axis":{"orient":"bottom","values":[0,500,1000,1500,2000,2500],"format":"d","grid":false,"zindex":1,"domainColor":"#000000","domainWidth":5,"tickColor":"#000000","tickWidth":3.5,"tickSize":14,"labelFont":"Roboto","labelFontSize":60,"labelColor":"#000000","labelPadding":6,"labelFlush":false,"labelOverlap":false,"labelLimit":1000,"titleFont":"Roboto","titleFontSize":60,"titleFontWeight":"normal","titleColor":"#000000","titlePadding":2}},
     "y":{"field":"y","type":"quantitative","title":"CMADS+DHSVM( m³/s)","scale":{"domain":[-8,2500],"range":[1333,43],"nice":false,"zero":false},
      "axis":{"orient":"left","offset":-880,"values":[0,500,1000,1500,2000,2500],"format":"d","grid":false,"zindex":1,"domainColor":"#000000","domainWidth":5,"tickColor":"#000000","tickWidth":3.5,"tickSize":14,"labelFont":"Roboto","labelFontSize":60,"labelColor":"#000000","labelPadding":10,"labelFlush":false,"labelOverlap":false,"labelLimit":1000,"titleFont":"Roboto","titleFontSize":60,"titleFontWeight":"normal","titleColor":"#000000","titlePadding":24}},
     "color":{"datum":"pearsonr = 0.87; p = 0","scale":{"range":["#1f77b4"]},
      "legend":{"title":null,"orient":"none","legendX":1809,"legendY":57,"symbolType":"stroke","symbolSize":10000,"symbolOpacity":0,"labelFont":"Roboto","labelFontSize":46,"labelColor":"#000000","labelOffset":20,"labelLimit":1000,"padding":8,"cornerRadius":6,"strokeColor":"#d4d4d4","fillColor":"#ffffff"}}
    }},
   {"data":{"values":[{"x":-45,"x2":-9,"y":-45,"y2":320},{"x":-45,"x2":500,"y":-45,"y2":-8}]},"mark":{"type":"rect","color":"#ffffff"},
    "encoding":{"x":{"field":"x","type":"quantitative"},"x2":{"field":"x2"},"y":{"field":"y","type":"quantitative"},"y2":{"field":"y2"}}},
   {"data":{"name":"fit"},"mark":{"type":"area","color":"#1f77b4","opacity":0.15},
    "encoding":{"x":{"field":"x","type":"quantitative"},"y":{"field":"lo","type":"quantitative"},"y2":{"field":"hi"}}},
   {"data":{"name":"fit"},"mark":{"type":"line","color":"#1f77b4","strokeWidth":9},
    "encoding":{"x":{"field":"x","type":"quantitative"},"y":{"field":"y","type":"quantitative"}}}
  ]},
  {"layer":[
   {"data":{"name":"histRight"},"mark":{"type":"rect","color":"#1f77b4","opacity":0.4,"stroke":"#1f77b4","strokeWidth":1.5},
    "encoding":{
     "y":{"field":"a","type":"quantitative","title":null,"scale":{"domain":[-8,2500],"range":[1333,43],"nice":false,"zero":false},
      "axis":{"orient":"left","offset":-2466,"values":[0,500,1000,1500,2000,2500],"labels":false,"grid":false,"domainColor":"#000000","domainWidth":5,"tickColor":"#000000","tickWidth":3.5,"tickSize":14}},
     "y2":{"field":"b"},
     "x":{"field":"c","type":"quantitative","title":null,"scale":{"domain":[0,270],"range":[2467,2718],"nice":false},"axis":null},
     "x2":{"datum":0}
    }},
   {"data":{"name":"kdeRight"},"mark":{"type":"line","color":"#1f77b4","strokeWidth":7},
    "encoding":{"x":{"field":"k","type":"quantitative"},"y":{"field":"v","type":"quantitative"},"order":{"field":"v"}}}
  ]}
  ]},
{"data":{"name":"blank"},"mark":{"type":"point","opacity":0},"width":3233,"height":1,"title":{"text":"(","dx":587,"offset":-273}},
{"data":{"name":"blank"},"mark":{"type":"point","opacity":0},"width":3233,"height":1,"title":{"text":"b","fontWeight":"bold","dx":615,"offset":-272}},
{"data":{"name":"blank"},"mark":{"type":"point","opacity":0},"width":3233,"height":1,"title":{"text":") Scatter plot of observed streamflow and simulated streamflow","dx":661,"offset":-271}},
{"data":{"name":"blank"},"mark":{"type":"point","opacity":0},"width":3233,"height":1,"title":{"text":"using CMADS (Pearsonr represents Pearson’s correlation coefficient,","dx":587,"offset":-356}},
{"data":{"name":"blank"},"mark":{"type":"point","opacity":0},"width":3233,"height":1,"title":{"text":"p represents the significance of paired","dx":587,"offset":-440}},
{"data":{"name":"blank"},"mark":{"type":"point","opacity":0},"width":3233,"height":1,"title":{"text":"t","fontStyle":"italic","dx":1858,"offset":-439}},
{"data":{"name":"blank"},"mark":{"type":"point","opacity":0},"width":3233,"height":1,"title":{"text":"-test, and the shade represents","dx":1881,"offset":-438}},
{"data":{"name":"blank"},"mark":{"type":"point","opacity":0},"width":3233,"height":563,"title":{"text":"the 0.95 confidence interval.)","dx":587,"offset":-522}}
]}
